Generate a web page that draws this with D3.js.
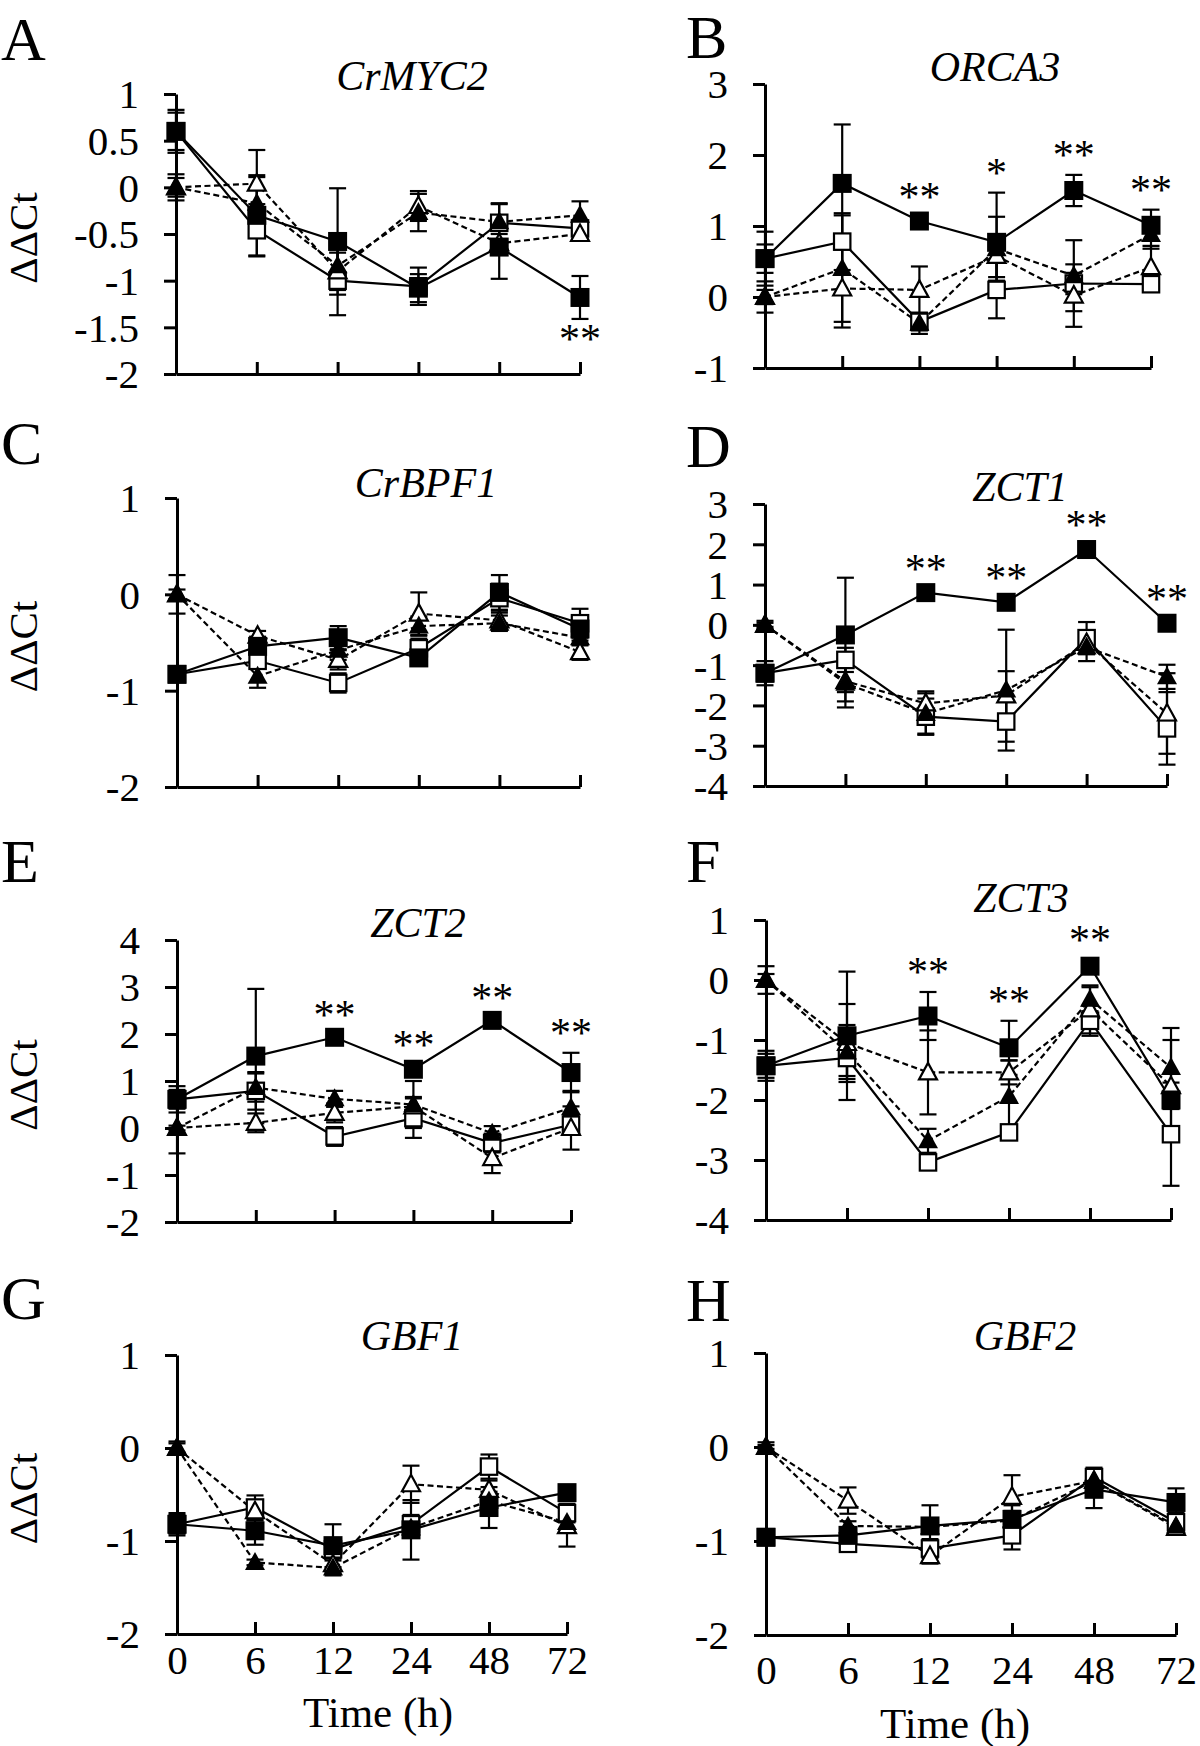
<!DOCTYPE html>
<html><head><meta charset="utf-8">
<script src="https://cdn.jsdelivr.net/npm/d3@7"></script>
<style>
body{margin:0;background:#fff}
svg{display:block}
text{font-family:"Liberation Serif","Times New Roman",serif;fill:#000}
</style>
</head><body>
<svg id="c" width="1200" height="1746"></svg>
<script>
// ---------- DATA ----------
const times = ["0","6","12","24","48","72"];
const panelLetters = ["A","B","C","D","E","F","G","H"];
const genes = ["CrMYC2","ORCA3","CrBPF1","ZCT1","ZCT2","ZCT3","GBF1","GBF2"];
const yDomains = [[-2,1],[-1,3],[-2,1],[-4,3],[-2,4],[-4,1],[-2,1],[-2,1]];
const yTickValues = [
  [-2,-1.5,-1,-0.5,0,0.5,1],
  [-1,0,1,2,3],
  [-2,-1,0,1],
  [-4,-3,-2,-1,0,1,2,3],
  [-2,-1,0,1,2,3,4],
  [-4,-3,-2,-1,0,1],
  [-2,-1,0,1],
  [-2,-1,0,1]
];
// filled square, solid line
const filledSquare = [
  [0.6,-0.3,-0.58,-1.08,-0.64,-1.18],
  [0.54,1.6,1.07,0.77,1.5,1.01],
  [-0.83,-0.54,-0.45,-0.66,0.02,-0.36],
  [-1.2,-0.25,0.8,0.56,1.87,0.04],
  [0.61,1.53,1.93,1.25,2.29,1.18],
  [-1.43,-0.93,-0.6,-1.13,0.23,-2.0],
  [-0.82,-0.89,-1.05,-0.88,-0.64,-0.48],
  [-0.96,-0.94,-0.84,-0.77,-0.45,-0.59]
];
const filledSquareErr = [
  [0.23,0.43,0.57,0.15,0.34,0.23],
  [0.38,0.83,0.05,0.7,0.22,0.22],
  [0.05,0.1,0.12,0.05,0.18,0.12],
  [0.2,1.42,0.1,0.1,0.1,0.1],
  [0.28,1.43,0.05,0.1,0.05,0.42],
  [0.25,1.07,0.4,0.45,0.1,0.15],
  [0.1,0.15,0.23,0.32,0.22,0.05],
  [0.03,0.05,0.22,0.15,0.2,0.15]
];
// open square, solid line
const openSquare = [
  [0.6,-0.46,-1.0,-1.06,-0.38,-0.44],
  [0.54,0.78,-0.35,0.1,0.19,0.18],
  [-0.83,-0.69,-0.92,-0.56,-0.04,-0.3],
  [-1.2,-0.87,-2.28,-2.4,-0.33,-2.57],
  [0.61,0.79,-0.18,0.21,-0.32,0.07],
  [-1.43,-1.3,-3.04,-2.54,-0.68,-2.57],
  [-0.82,-0.64,-1.09,-0.82,-0.2,-0.7],
  [-0.96,-1.03,-1.08,-0.94,-0.32,-0.8]
];
const openSquareErr = [
  [0.2,0.28,0.37,0.2,0.2,0.08],
  [0.2,0.4,0.12,0.4,0.15,0.1],
  [0.05,0.08,0.1,0.1,0.15,0.15],
  [0.3,0.3,0.45,0.5,0.4,0.9],
  [0.2,0.4,0.2,0.42,0.2,0.2],
  [0.2,0.3,0.12,0.1,0.25,0.86],
  [0.12,0.13,0.1,0.1,0.13,0.1],
  [0.03,0.05,0.1,0.15,0.1,0.1]
];
// filled triangle, dashed line
const filledTriangle = [
  [0,-0.17,-0.84,-0.27,-0.37,-0.3],
  [0,0.4,-0.37,0.68,0.3,0.88],
  [0,-0.85,-0.58,-0.33,-0.3,-0.45],
  [0,-1.45,-2.2,-1.62,-0.55,-1.29],
  [0,0.86,0.62,0.5,-0.11,0.43],
  [0,-1.2,-2.68,-1.94,-0.32,-1.46],
  [0,-1.23,-1.29,-0.86,-0.57,-0.8],
  [0,-0.84,-0.85,-0.78,-0.36,-0.84]
];
const filledTriangleErr = [
  [0.14,0.28,0.2,0.2,0.2,0.15],
  [0.22,0.75,0.15,0.45,0.5,0.2],
  [0.2,0.12,0.1,0.1,0.08,0.08],
  [0.1,0.6,0.5,1.5,0.35,0.3],
  [0.54,0.3,0.17,0.5,0.15,0.36],
  [0.23,0.45,0.2,0.6,0.2,0.66],
  [0.07,0.03,0.08,0.1,0.1,0.1],
  [0.05,0.05,0.05,0.1,0.1,0.05]
];
// open triangle, dashed line
const openTriangle = [
  [0,0.04,-0.9,-0.2,-0.6,-0.5],
  [0,0.12,0.1,0.58,0.02,0.42],
  [0,-0.43,-0.68,-0.2,-0.27,-0.6],
  [0,-1.4,-1.95,-1.75,-0.45,-2.2],
  [0,0.11,0.32,0.46,-0.64,0.0],
  [0,-1.05,-1.54,-1.54,-0.49,-1.77],
  [0,-0.68,-1.25,-0.39,-0.45,-0.84],
  [0,-0.57,-1.16,-0.53,-0.36,-0.86]
];
const openTriangleErr = [
  [0.1,0.36,0.2,0.16,0.1,0.05],
  [0.1,0.55,0.33,0.3,0.44,0.3],
  [0.05,0.05,0.1,0.22,0.1,0.08],
  [0.05,0.5,0.3,0.6,0.25,1.0],
  [0.05,0.2,0.2,0.2,0.32,0.46],
  [0.1,0.65,0.7,0.2,0.4,0.77],
  [0.05,0.1,0.08,0.2,0.1,0.22],
  [0.02,0.14,0.08,0.23,0.1,0.05]
];
// significance marks (on filled-square series)
const starText = [
  ["","","","","","**"],
  ["","","**","*","**","**"],
  ["","","","","",""],
  ["","","**","**","**","**"],
  ["","","**","**","**","**"],
  ["","","**","**","**",""],
  ["","","","","",""],
  ["","","","","",""]
];
const starBelow = [true,false,false,false,false,false,false,false];
const yAxisTitle = "ΔΔCt";
const xAxisTitle = "Time (h)";

// ---------- LAYOUT ----------
const layout = [
  {x0:176,x1:580,yTop:94,yBot:374,  tx:412,ty:90,   lx:1,ly:60,    ylab:true},
  {x0:765,x1:1151,yTop:84,yBot:368, tx:995,ty:81,   lx:686,ly:58},
  {x0:177,x1:580,yTop:498,yBot:787, tx:426,ty:497,  lx:1,ly:464,   ylab:true},
  {x0:765,x1:1167,yTop:504,yBot:786,tx:1020,ty:501, lx:686,ly:467},
  {x0:177,x1:571,yTop:940,yBot:1222,tx:418,ty:937,  lx:1,ly:882,   ylab:true},
  {x0:766,x1:1171,yTop:920,yBot:1220,tx:1021,ty:912,lx:686,ly:882},
  {x0:177,x1:567,yTop:1355,yBot:1634,tx:412,ty:1350,lx:1,ly:1319,  ylab:true, xlab:1674, timeX:378, timeY:1727},
  {x0:766,x1:1176,yTop:1353,yBot:1635,tx:1025,ty:1350,lx:686,ly:1321, xlab:1684, timeX:955, timeY:1738}
];

const series = [
  {m:openSquare, e:openSquareErr, shape:"square", fill:"#fff", dash:null},
  {m:openTriangle, e:openTriangleErr, shape:"triangle", fill:"#fff", dash:"6,3.5"},
  {m:filledTriangle, e:filledTriangleErr, shape:"triangle", fill:"#000", dash:"6,3.5"},
  {m:filledSquare, e:filledSquareErr, shape:"square", fill:"#000", dash:null}
];

const svg = d3.select("#c");
const FONT = '"Liberation Serif","Times New Roman",serif';

layout.forEach((L,i)=>{
  const g = svg.append("g");
  const x = d3.scalePoint().domain(times).range([L.x0,L.x1]);
  const y = d3.scaleLinear().domain(yDomains[i]).range([L.yBot,L.yTop]);

  // y axis
  const ya = g.append("g").attr("transform",`translate(${L.x0},0)`)
    .call(d3.axisLeft(y).tickValues(yTickValues[i]).tickSize(12).tickSizeOuter(0)
      .tickPadding(25).tickFormat(d=>String(d)));
  ya.select(".domain").attr("stroke","#000").attr("stroke-width",3);
  ya.selectAll(".tick line").attr("stroke","#000").attr("stroke-width",3);
  ya.selectAll(".tick text").attr("font-size",41).attr("font-family",FONT)
    .attr("dy","0.34em").attr("fill","#000");

  // x axis
  const xa = g.append("g").attr("transform",`translate(0,${L.yBot})`)
    .call(d3.axisBottom(x).tickSize(-12).tickSizeOuter(0)
      .tickFormat(L.xlab ? (d=>d) : ()=>""));
  xa.select(".domain").attr("stroke","#000").attr("stroke-width",3);
  xa.selectAll(".tick line").attr("stroke","#000").attr("stroke-width",3);
  xa.selectAll(".tick text").attr("font-size",41).attr("font-family",FONT)
    .attr("y", L.xlab ? L.xlab - L.yBot : 0).attr("dy",0).attr("fill","#000");

  // lines
  const line = d3.line().x((d,j)=>x(times[j])).y(d=>y(d));
  series.forEach(s=>{
    g.append("path").datum(s.m[i]).attr("d",line).attr("fill","none")
      .attr("stroke","#000").attr("stroke-width",2.2)
      .attr("stroke-dasharray",s.dash);
  });
  // error bars
  const cap = 8.5;
  series.forEach(s=>{
    const eg = g.append("g").attr("stroke","#000").attr("stroke-width",2.2);
    s.m[i].forEach((v,j)=>{
      const e = s.e[i][j];
      const cx = x(times[j]), y1 = y(v+e), y2 = y(v-e);
      eg.append("line").attr("x1",cx).attr("x2",cx).attr("y1",y1).attr("y2",y2);
      eg.append("line").attr("x1",cx-cap).attr("x2",cx+cap).attr("y1",y1).attr("y2",y1);
      eg.append("line").attr("x1",cx-cap).attr("x2",cx+cap).attr("y1",y2).attr("y2",y2);
    });
  });
  // markers
  series.forEach(s=>{
    s.m[i].forEach((v,j)=>{
      const cx = x(times[j]), cy = y(v);
      if(s.shape==="square"){
        const h = s.fill==="#000" ? 9.5 : 8.2;
        g.append("rect").attr("x",cx-h).attr("y",cy-h).attr("width",2*h).attr("height",2*h)
          .attr("fill",s.fill).attr("stroke","#000").attr("stroke-width",s.fill==="#000"?0:2.2);
      } else {
        const w = s.fill==="#000" ? 10 : 9, t = s.fill==="#000" ? 10.5 : 9.5, b = s.fill==="#000" ? 7.5 : 7;
        g.append("path").attr("d",`M${cx},${cy-t}L${cx+w},${cy+b}L${cx-w},${cy+b}Z`)
          .attr("fill",s.fill).attr("stroke","#000").attr("stroke-width",s.fill==="#000"?0:2.2)
          .attr("stroke-linejoin","miter");
      }
    });
  });

  // significance stars
  starText[i].forEach((t,j)=>{
    if(!t) return;
    const v = filledSquare[i][j], e = filledSquareErr[i][j];
    const yy = starBelow[i] ? y(v-e)+34 : y(v+e)-6;
    g.append("text").attr("x",x(times[j])).attr("y",yy).attr("text-anchor","middle")
      .attr("font-size",42).text(t);
  });

  // title
  g.append("text").attr("x",L.tx).attr("y",L.ty).attr("text-anchor","middle")
    .attr("font-size",42).attr("font-style","italic").text(genes[i]);
  // letter
  g.append("text").attr("x",L.lx).attr("y",L.ly).attr("font-size",62).text(panelLetters[i]);
  // y axis title
  if(L.ylab){
    g.append("text").attr("transform",`translate(37,${(L.yTop+L.yBot)/2+4}) rotate(-90)`)
      .attr("text-anchor","middle").attr("font-size",41).text(yAxisTitle);
  }
  if(L.timeY){
    g.append("text").attr("x",L.timeX).attr("y",L.timeY).attr("text-anchor","middle")
      .attr("font-size",43).text(xAxisTitle);
  }
});
</script>
</body></html>
